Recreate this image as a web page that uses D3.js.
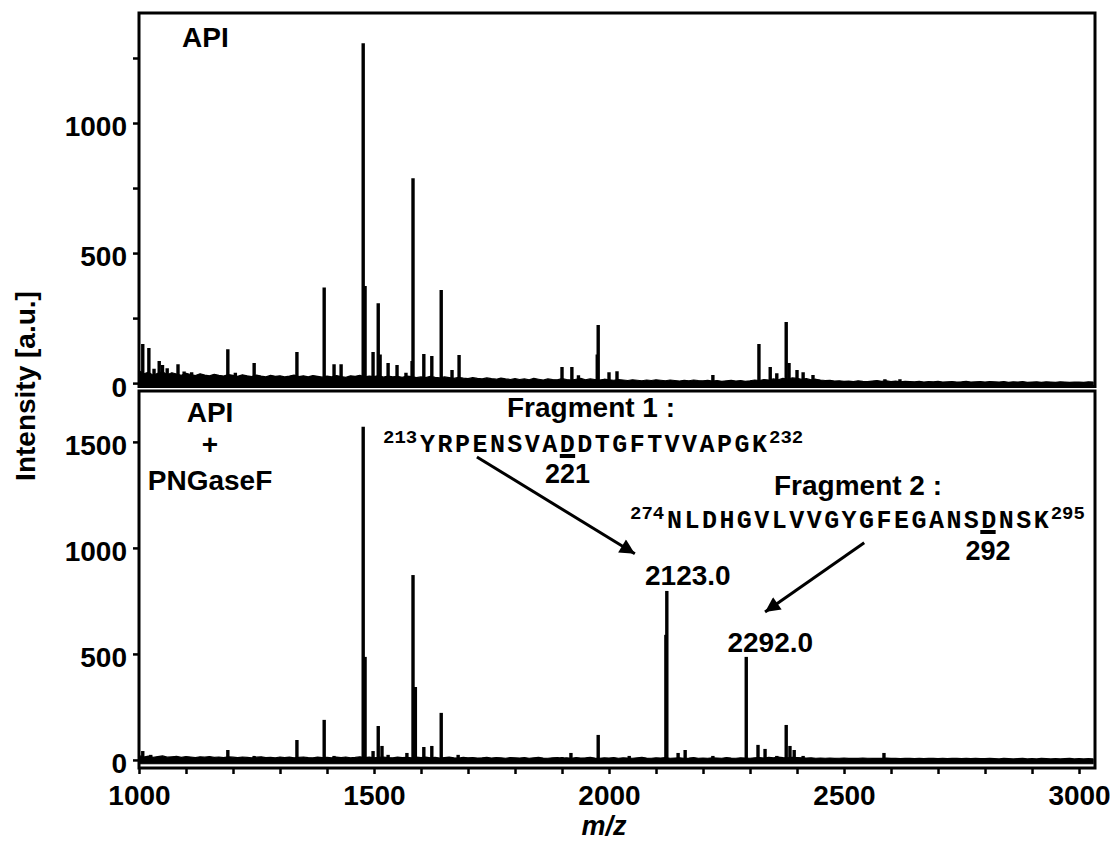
<!DOCTYPE html>
<html>
<head>
<meta charset="utf-8">
<script src="https://cdn.jsdelivr.net/npm/d3@7"></script>
<style>
  body { margin: 0; background: #fff; }
  svg text { font-family: "Liberation Sans", Arial, sans-serif; font-weight: bold; fill: #000; }
  .seq { font-family: "Liberation Mono", "Courier New", monospace; }
</style>
</head>
<body>
<svg id="chart" width="1110" height="843"></svg>
<script>
"use strict";

// ---- data ----
// peaks as [m/z, intensity]
const apiPeaks = [
  [1008,150],[1021,135],[1032,55],[1043,85],[1050,70],[1060,57],[1083,73],[1096,45],[1112,42],
  [1189,130],[1205,40],[1245,77],[1336,120],[1394,368],[1415,73],[1430,73],[1477,1307],[1481,373],
  [1498,120],[1509,307],[1513,110],[1530,77],[1549,70],[1568,40],[1581,85],[1583,788],[1606,112],
  [1623,104],[1643,358],[1666,50],[1681,108],[1900,62],[1921,62],[1935,30],[1975,110],[1977,223],
  [2000,42],[2017,46],[2221,31],[2319,150],[2343,62],[2357,38],[2377,235],[2383,77],[2400,50],
  [2413,42],[2434,31],[2587,15],[2619,15]
];
const pngasePeaks = [
  [1008,42],[1025,24],[1189,47],[1245,19],[1336,94],[1394,189],[1415,19],[1477,1571],[1481,486],
  [1498,42],[1509,160],[1517,66],[1530,24],[1570,33],[1583,872],[1588,344],[1606,61],[1623,66],
  [1643,222],[1679,24],[1900,14],[1919,33],[1977,118],[2043,19],[2121,590],[2123,797],[2147,33],
  [2162,47],[2221,19],[2292,486],[2317,71],[2332,52],[2357,19],[2377,165],[2385,66],[2394,47],
  [2413,19],[2585,33],[2685,8]
];

// top edge of the noise band, one value every 10 m/z starting at 1000
const noiseStart = 1000, noiseStep = 10;
const apiNoise = [
  48,36,42,30,38,44,32,40,35,30,38,33,29,36,31,28,34,30,27,33,
  30,26,32,28,25,31,27,24,30,26,28,24,27,31,25,28,24,29,26,23,
  27,24,29,25,22,28,26,30,24,27,25,29,23,27,24,26,22,27,25,21,
  24,21,26,22,20,24,21,18,22,19,17,21,18,16,20,17,15,19,16,14,
  17,14,16,13,18,15,12,16,14,13,17,14,12,15,18,13,16,14,12,15,
  13,11,14,12,10,13,11,9,12,10,13,11,9,12,10,8,11,9,12,10,
  9,11,8,10,7,9,11,8,10,7,9,12,10,14,12,16,13,18,15,20,
  18,15,17,13,15,12,10,11,8,9,7,8,6,9,7,6,8,10,7,9,
  6,8,5,7,6,5,7,4,6,5,7,4,5,6,4,5,7,4,5,6,
  4,6,5,4,6,3,5,4,6,3,4,5,3,5,4,3,5,4,3,4,
  4,3,5,4
];
const pngaseNoise = [
  20,14,18,12,16,19,13,15,17,12,16,14,11,15,13,16,12,14,11,15,
  13,11,14,12,10,13,15,11,12,10,14,11,13,10,12,14,11,10,13,11,
  12,10,13,11,14,10,12,15,11,13,10,12,14,11,10,13,11,12,10,13,
  11,13,10,12,9,11,13,10,9,12,10,11,9,10,12,9,11,10,8,11,
  10,9,11,8,10,12,9,8,10,11,9,10,8,11,9,10,12,9,8,10,
  9,11,8,10,9,8,10,12,9,8,10,9,11,8,9,10,8,9,11,8,
  9,8,10,9,8,11,9,8,10,9,8,10,11,9,12,10,13,11,10,12,
  11,10,9,10,8,9,8,9,7,8,9,7,8,7,9,8,7,8,7,9,
  7,8,6,7,8,6,7,6,8,7,6,7,6,8,7,6,7,6,7,6,
  6,7,6,5,7,6,5,6,7,5,6,5,7,6,5,6,5,6,7,5,
  6,5,6,5
];
// lower edge of the noise band
const apiFloor = -10, pngaseFloor = -18;

const xTickValues = [1000,1100,1200,1300,1400,1500,1600,1700,1800,1900,2000,
                     2100,2200,2300,2400,2500,2600,2700,2800,2900,3000];
const xTickLabels = [1000,1500,2000,2500,3000];
const topTickValues = [0,250,500,750,1000,1250];
const topTickLabels = [0,500,1000];
const botTickValues = [0,500,1000,1500];

const seq1 = {pre:"213", body:"YRPENSVADDTGFTVVAPGK", post:"232", mark:8, site:"221"};
const seq2 = {pre:"274", body:"NLDHGVLVVGYGFEGANSDNSK", post:"295", mark:18, site:"292"};

// ---- layout ----
const svg = d3.select("#chart");
const left = 139, right = 1095;

const x = d3.scaleLinear().domain([1000, 3034]).range([left, right]);
const yTop = d3.scaleLinear().domain([-13, 1423]).range([386.5, 13]);
const yBot = d3.scaleLinear().domain([-38, 1740]).range([768, 391]);

function drawPanel(id, y, peaks, noise, floor, ticks, labels) {
  const [y0, y1] = y.range();
  svg.append("clipPath").attr("id", id)
    .append("rect").attr("x", left).attr("y", y1).attr("width", right-left).attr("height", y0-y1);

  const g = svg.append("g").attr("clip-path", "url(#" + id + ")");

  const band = d3.area()
    .x((d, i) => x(noiseStart + i*noiseStep))
    .y0(y(floor))
    .y1(d => y(d));
  g.append("path").datum(noise)
    .attr("d", band)
    .attr("fill", "#000").attr("stroke", "#000").attr("stroke-width", 1.2)
    .attr("stroke-linejoin", "round");

  g.selectAll("line.pk").data(peaks).enter().append("line")
    .attr("class", "pk")
    .attr("x1", d => x(d[0])).attr("x2", d => x(d[0]))
    .attr("y1", y(0)).attr("y2", d => y(d[1]))
    .attr("stroke", "#000").attr("stroke-width", 3.4);

  svg.append("rect")
    .attr("x", left).attr("y", y1).attr("width", right-left).attr("height", y0-y1)
    .attr("fill", "none").attr("stroke", "#000").attr("stroke-width", 3);

  const ax = svg.append("g").attr("transform", "translate(" + left + ",0)")
    .call(d3.axisLeft(y).tickValues(ticks).tickSize(6).tickPadding(6)
      .tickFormat(d => labels.includes(d) ? d : ""));
  ax.select(".domain").remove();
  ax.selectAll(".tick line").attr("stroke-width", 2.5);
  ax.selectAll(".tick text").attr("font-size", 28).attr("dy", "0.46em")
    .style("font-family", "Liberation Sans, Arial, sans-serif");
}

drawPanel("clipTop", yTop, apiPeaks, apiNoise, apiFloor, topTickValues, topTickLabels);
drawPanel("clipBot", yBot, pngasePeaks, pngaseNoise, pngaseFloor, botTickValues, botTickValues);

// x axis under the lower panel
const xa = svg.append("g").attr("transform", "translate(0,768)")
  .call(d3.axisBottom(x).tickValues(xTickValues).tickSize(6)
    .tickFormat(d => xTickLabels.includes(d) ? d : ""));
xa.select(".domain").remove();
xa.selectAll(".tick line").attr("stroke-width", 2.5);
xa.selectAll(".tick text").attr("font-size", 28).attr("y", 37).attr("dy", null)
  .style("font-family", "Liberation Sans, Arial, sans-serif");

// axis titles
svg.append("text")
  .attr("transform", "translate(35,386) rotate(-90)")
  .attr("text-anchor", "middle").attr("font-size", 28)
  .text("Intensity [a.u.]");
svg.append("text")
  .attr("x", 604).attr("y", 835).attr("text-anchor", "middle")
  .attr("font-size", 27).attr("font-style", "italic")
  .text("m/z");

// panel labels
svg.append("text").attr("x", 182).attr("y", 47).attr("font-size", 28).text("API");
const lbl = svg.append("g").attr("text-anchor", "middle").attr("font-size", 28);
lbl.append("text").attr("x", 210).attr("y", 422).text("API");
lbl.append("text").attr("x", 210).attr("y", 454).text("+");
lbl.append("text").attr("x", 210).attr("y", 490).text("PNGaseF");

// fragment annotations
const pitch = 17.35;
function drawSeq(s, x0, yb) {
  const n = s.body.length;
  svg.append("text").attr("class", "seq").attr("x", x0 - 37).attr("y", yb - 9)
    .attr("font-size", 19).attr("font-weight", "normal").text(s.pre);
  svg.append("text").attr("class", "seq").attr("x", x0).attr("y", yb)
    .attr("font-size", 25).attr("textLength", n*pitch).attr("lengthAdjust", "spacing")
    .text(s.body);
  svg.append("text").attr("class", "seq").attr("x", x0 + n*pitch + 2).attr("y", yb - 9)
    .attr("font-size", 19).attr("font-weight", "normal").text(s.post);
  svg.append("rect")
    .attr("x", x0 + s.mark*pitch + 1).attr("y", yb + 2)
    .attr("width", pitch - 2).attr("height", 4).attr("fill", "#000");
  return x0 + s.mark*pitch + pitch/2;
}

const ann = svg.append("g").attr("text-anchor", "middle").attr("font-size", 28);
ann.append("text").attr("x", 591).attr("y", 417).text("Fragment 1 :");
const c1 = drawSeq(seq1, 420, 452);
ann.append("text").attr("x", c1).attr("y", 483).attr("font-size", 27).text(seq1.site);

ann.append("text").attr("x", 858).attr("y", 495).text("Fragment 2 :");
const c2 = drawSeq(seq2, 667, 528);
ann.append("text").attr("x", c2).attr("y", 560).attr("font-size", 27).text(seq2.site);

ann.append("text").attr("x", x(2123) + 21).attr("y", 585).text("2123.0");
ann.append("text").attr("x", x(2292) + 24).attr("y", 652).text("2292.0");

svg.append("defs").append("marker")
  .attr("id", "head").attr("viewBox", "0 0 10 10")
  .attr("refX", 10).attr("refY", 5)
  .attr("markerWidth", 21).attr("markerHeight", 15)
  .attr("markerUnits", "userSpaceOnUse").attr("orient", "auto")
  .append("path").attr("d", "M0,0 L10,5 L0,10 Z").attr("fill", "#000");

// arrows in data coordinates of the lower panel: [from, to]
const arrows = [
  [[1719,1429],[2055,972]],
  [[2543,1024],[2332,698]]
];
svg.selectAll("line.arrow").data(arrows).enter().append("line")
  .attr("class", "arrow")
  .attr("x1", d => x(d[0][0])).attr("y1", d => yBot(d[0][1]))
  .attr("x2", d => x(d[1][0])).attr("y2", d => yBot(d[1][1]))
  .attr("stroke", "#000").attr("stroke-width", 3)
  .attr("marker-end", "url(#head)");
</script>
</body>
</html>
